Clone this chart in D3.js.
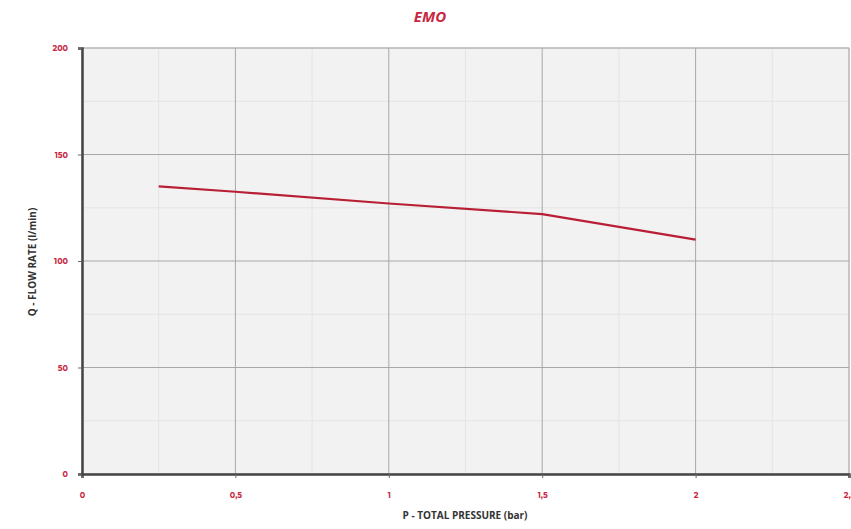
<!DOCTYPE html>
<html><head><meta charset="utf-8">
<script src="https://cdn.jsdelivr.net/npm/d3@7"></script>
<style>body{margin:0;background:#fff}</style>
</head><body>
<svg id="chart" width="851" height="529"></svg>
<script>
const title = "EMO";
const pressure = [0.25, 0.5, 1, 1.5, 2];
const flow = [135, 132.5, 127, 122, 110];
const xTicks = [0, 0.5, 1, 1.5, 2, 2.5];
const xTickLabels = ["0", "0,5", "1", "1,5", "2", "2,5"];
const yTicks = [0, 50, 100, 150, 200];
const xTitle = "P - TOTAL PRESSURE (bar)";
const yTitle = "Q - FLOW RATE (l/min)";

const svg = d3.select("#chart");
const m = {l: 82, r: 849, t: 48, b: 474};
const x = d3.scaleLinear().domain([0, 2.5]).range([m.l, m.r]);
const y = d3.scaleLinear().domain([0, 200]).range([m.b, m.t]);
const red = "#c8283f";

svg.append("rect").attr("x", m.l).attr("y", m.t).attr("width", m.r - m.l).attr("height", m.b - m.t)
  .attr("fill", "#f2f2f2").attr("stroke", "#d0d0d0");

// minor grid
const g = svg.append("g");
g.selectAll(".vx").data(d3.range(0.25, 2.5, 0.5)).enter().append("line")
  .attr("x1", d => x(d)).attr("x2", d => x(d)).attr("y1", m.t).attr("y2", m.b)
  .attr("stroke", "#e4e4e4").attr("stroke-width", 1);
g.selectAll(".hy").data(d3.range(25, 200, 50)).enter().append("line")
  .attr("y1", d => y(d)).attr("y2", d => y(d)).attr("x1", m.l).attr("x2", m.r)
  .attr("stroke", "#e4e4e4").attr("stroke-width", 1);
// major grid
g.selectAll(".gx").data(xTicks.slice(1)).enter().append("line")
  .attr("x1", d => x(d)).attr("x2", d => x(d)).attr("y1", m.t).attr("y2", m.b)
  .attr("stroke", "#a8a8a8").attr("stroke-width", 1);
g.selectAll(".gy").data(yTicks.slice(1)).enter().append("line")
  .attr("y1", d => y(d)).attr("y2", d => y(d)).attr("x1", m.l).attr("x2", m.r)
  .attr("stroke", "#a8a8a8").attr("stroke-width", 1);

// axes
const xAxis = svg.append("g").attr("transform", `translate(0,${m.b})`)
  .call(d3.axisBottom(x).tickValues(xTicks).tickFormat((d, i) => xTickLabels[i]).tickSize(4).tickPadding(14));
const yAxis = svg.append("g").attr("transform", `translate(${m.l},0)`)
  .call(d3.axisLeft(y).tickValues(yTicks).tickSize(4).tickPadding(10));
[xAxis, yAxis].forEach(a => {
  a.select(".domain").attr("stroke", "#444").attr("stroke-width", 2.5);
  a.selectAll(".tick line").attr("stroke", "#666");
  a.selectAll("text").attr("fill", red).attr("font-family", "Montserrat, 'Open Sans', sans-serif")
    .attr("font-size", 8).attr("font-weight", "bold");
});

// line
const line = d3.line().x((d, i) => x(pressure[i])).y(d => y(d));
svg.append("path").datum(flow).attr("d", line).attr("fill", "none")
  .attr("stroke", "#b81f34").attr("stroke-width", 2.2);

// titles
svg.append("text").attr("x", 430).attr("y", 22).attr("text-anchor", "middle")
  .attr("font-family", "'Open Sans', sans-serif").attr("font-size", 15).attr("font-weight", "bold")
  .attr("font-style", "italic").attr("fill", red).text(title);
svg.append("text").attr("x", 465).attr("y", 519).attr("text-anchor", "middle")
  .attr("font-family", "'Open Sans', sans-serif").attr("font-size", 10).attr("font-weight", "bold")
  .attr("fill", "#333").text(xTitle);
svg.append("text").attr("transform", "translate(36,262) rotate(-90)").attr("text-anchor", "middle")
  .attr("font-family", "'Open Sans', sans-serif").attr("font-size", 10).attr("font-weight", "bold")
  .attr("fill", "#333").text(yTitle);
</script>
</body></html>
